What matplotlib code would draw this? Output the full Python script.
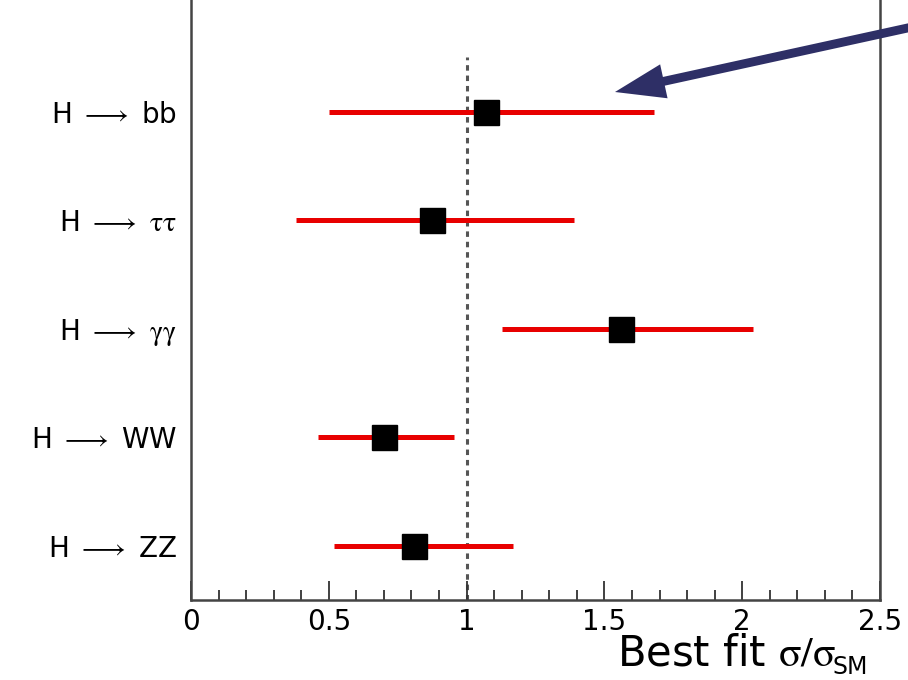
import numpy as np
import matplotlib
matplotlib.use("Agg")
import matplotlib.pyplot as plt
from matplotlib.ticker import MultipleLocator

plt.rcParams["font.family"] = ["DejaVu Sans"]
plt.rcParams["mathtext.fontset"] = "stix"

channels = [r"H $\longrightarrow$ bb", r"H $\longrightarrow$ $\mathrm{\tau\tau}$",
            r"H $\longrightarrow$ $\mathrm{\gamma\gamma}$", r"H $\longrightarrow$ WW",
            r"H $\longrightarrow$ ZZ"]
best_fit = [1.07, 0.875, 1.56, 0.70, 0.81]
err_lo = [0.50, 0.38, 1.13, 0.46, 0.52]
err_hi = [1.68, 1.39, 2.04, 0.955, 1.17]
ypos = [5, 4, 3, 2, 1]
xticks = [0, 0.5, 1, 1.5, 2, 2.5]
xticklabels = ["0", "0.5", "1", "1.5", "2", "2.5"]

W, H = 908, 680
fig = plt.figure(figsize=(W / 100, H / 100), dpi=100)
ax = fig.add_axes([191 / W, 80 / H, 689 / W, 618.5 / H])

# SM reference line
ax.axvline(1.0, ymin=0, ymax=5.0 / 5.7, color="#555555", lw=2.2,
           ls=(0, (1.8, 1.6)), zorder=1)
for y, m, lo, hi in zip(ypos, best_fit, err_lo, err_hi):
    ax.plot([lo, hi], [y, y], color="#e80000", lw=3.6,
            solid_capstyle="butt", zorder=2)
    ax.plot(m, y, marker="s", ms=18, color="black", zorder=3)

ax.set_xlim(0, 2.5)
ax.set_ylim(0.5, 6.2)
ax.set_yticks(ypos)
ax.set_yticklabels(channels, fontsize=20)
ax.tick_params(axis="y", length=0, pad=10)
ax.set_xticks(xticks)
ax.set_xticklabels(xticklabels, fontsize=20)
ax.xaxis.set_minor_locator(MultipleLocator(0.1))
ax.tick_params(axis="x", which="major", direction="in", length=14,
               width=1.3, color="#333333", pad=6)
ax.tick_params(axis="x", which="minor", direction="in", length=7,
               width=1.3, color="#333333")
for sp in ax.spines.values():
    sp.set_linewidth(1.8)
    sp.set_color("#444444")

fig.text(836 / W, (H - 666) / H, r"Best fit $\mathrm{\sigma/\sigma}$",
         ha="right", va="baseline", fontsize=30)
fig.text(833 / W, (H - 674) / H, "SM", ha="left", va="baseline", fontsize=17)

ax.annotate("", xy=(615, H - 92), xycoords="figure pixels",
            xytext=(935, H - 22), textcoords="figure pixels",
            arrowprops=dict(arrowstyle="simple,tail_width=0.32,head_width=1.25,head_length=1.8",
                            mutation_scale=20, color="#2e2f66", lw=0,
                            shrinkA=0, shrinkB=0),
            annotation_clip=False)

fig.savefig("out.png", dpi=100, facecolor="w")
